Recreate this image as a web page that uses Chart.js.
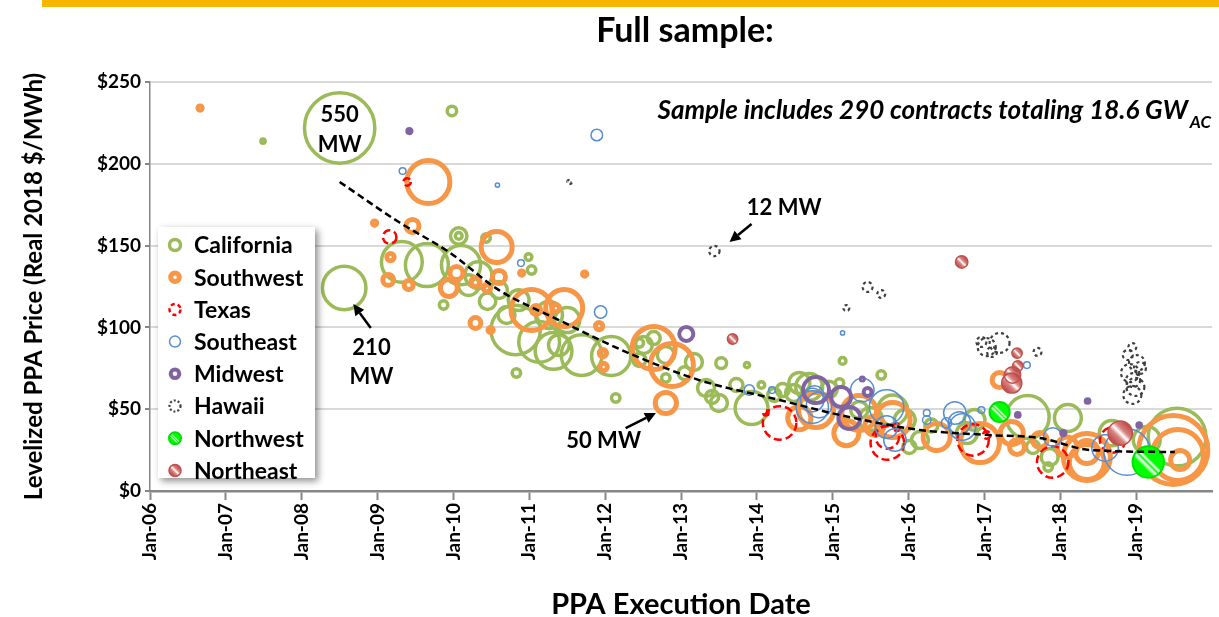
<!DOCTYPE html>
<html>
<head>
<meta charset="utf-8">
<script src="https://cdn.jsdelivr.net/npm/chart.js@4.4.1/dist/chart.umd.min.js"></script>
<style>
html,body{margin:0;padding:0;background:#fff;}
#wrap{position:relative;width:1219px;height:617px;overflow:hidden;}
</style>
</head>
<body>
<div id="wrap"><canvas id="c" width="1219" height="617"></canvas></div>
<script>
// ---------- DATA (year of PPA execution, levelized price $/MWh, capacity MW) ----------
const seriesNames = ['California','Southwest','Texas','Southeast','Midwest','Hawaii','Northwest','Northeast'];
const yearTickLabels = ['Jan-06','Jan-07','Jan-08','Jan-09','Jan-10','Jan-11','Jan-12','Jan-13','Jan-14','Jan-15','Jan-16','Jan-17','Jan-18','Jan-19'];
const priceTickValues = [0,50,100,150,200,250];

const california = [
  [2008.50,221.9,550],[2008.56,124.1,210],[2007.49,213.9,2],[2009.98,232.3,10],
  [2010.07,155.9,30],[2010.07,155.9,5],[2010.43,154.6,8],[2009.32,140.0,185],
  [2009.65,138.1,205],[2010.10,138.1,170],[2010.33,132.0,80],[2010.20,125.9,48],
  [2009.87,113.7,8],[2010.60,122.9,32],[2010.99,143.0,5],[2011.03,135.1,8],
  [2010.86,116.7,48],[2010.70,107.6,32],[2010.82,98.4,270],[2011.13,91.1,185],
  [2011.26,107.6,80],[2011.50,104.5,70],[2011.39,89.2,48],[2011.69,83.1,185],
  [2012.08,82.5,170],[2010.83,72.1,8],[2012.14,56.8,8],[2012.51,89.2,32],
  [2012.64,93.5,19],[2012.80,83.1,32],[2012.45,80.1,19],[2012.80,69.1,8],
  [2013.17,78.8,32],[2013.53,78.2,13],[2013.87,77.0,3],[2013.33,63.0,32],
  [2013.41,57.5,19],[2013.50,53.8,32],[2013.73,64.8,19],[2013.93,50.7,120],
  [2014.06,64.8,5],[2014.34,61.7,19],[2014.49,59.9,32],[2014.69,63.6,80],
  [2015.13,79.5,5],[2015.64,70.9,8],[2015.09,66.0,8],[2015.79,49.5,100],
  [2016.01,26.9,19],[2016.77,35.4,48],[2017.57,45.2,205],[2018.10,44.6,80],
  [2017.64,26.9,19],[2017.86,20.8,32],[2018.68,35.4,70],[2019.54,33.0,370],
  [2016.87,43.4,48],[2019.14,31.2,80],[2012.45,90.5,8],[2015.95,43.4,48],
  [2016.15,31.2,32],[2015.35,49.5,32],[2017.84,14.7,8],
  [2011.32,85.6,150],[2014.56,66.0,49],[2014.23,58.7,19],[2010.45,116.0,30],
  [2013.05,72.0,19],[2014.95,62.0,30],[2015.50,44.0,60],[2016.30,40.0,19]
];
const southwest = [
  [2006.66,234.1,2],[2009.67,188.9,205],[2008.96,163.8,2],[2009.46,162.0,19],
  [2009.17,143.0,6],[2009.14,129.0,13],[2009.41,125.9,9],[2009.94,124.1,32],
  [2010.04,133.2,19],[2010.29,127.7,9],[2010.44,124.1,6],[2010.60,130.8,19],
  [2010.57,149.1,107],[2010.29,102.7,13],[2010.49,98.4,3],[2011.03,110.6,187],
  [2011.46,111.8,152],[2011.09,110.6,9],[2011.35,111.8,6],[2011.73,132.6,2],
  [2011.92,100.8,6],[2011.97,84.3,6],[2011.98,75.8,6],[2012.64,87.4,205],
  [2012.88,77.0,205],[2012.80,53.8,50],[2010.90,133.2,2],
  [2014.78,49.5,136],[2015.18,35.4,70],[2015.35,47.7,136],[2015.79,43.4,136],
  [2016.37,33.0,81],[2016.94,29.3,170],[2017.36,35.4,59],[2017.43,26.9,25],
  [2017.20,67.8,25],[2018.35,20.8,245],[2018.35,17.7,136],[2018.35,23.8,59],
  [2019.49,25.1,530],[2019.55,22.0,290],[2019.58,18.9,40],[2017.73,31.2,25],
  [2018.09,26.9,45],[2014.56,44.6,60],[2015.55,40.0,40]
];
const texas = [
  [2009.39,188.9,6],[2009.16,155.3,20],[2014.30,41.6,125],[2014.12,47.7,3],
  [2015.72,29.3,125],[2015.72,33.0,61],[2015.84,39.1,6],[2016.85,31.2,110],
  [2017.03,34.2,6],[2017.90,17.7,110],[2018.69,31.2,72]
];
const southeast = [
  [2009.33,195.6,5],[2011.89,217.6,15],[2010.58,187.0,2],[2010.89,139.3,5],
  [2011.94,109.4,17],[2013.90,61.7,12],[2014.20,61.7,5],[2015.13,96.6,2],
  [2014.73,51.3,117],[2014.73,55.6,61],[2014.76,58.7,38],[2014.82,52.6,72],
  [2015.39,61.7,61],[2015.71,51.3,132],[2015.71,39.1,56],[2015.82,31.2,56],
  [2016.24,43.4,8],[2016.24,47.7,5],[2016.61,47.7,56],[2016.50,41.6,12],
  [2016.71,39.1,78],[2016.96,49.5,5],[2016.67,41.6,56],[2017.56,77.0,5],
  [2017.90,33.0,38],[2018.59,26.3,78],[2018.88,23.8,240]
];
const midwest = [
  [2009.42,220.0,2],[2013.07,96.0,22],[2014.78,61.7,75],[2015.11,57.5,44],
  [2015.22,44.6,54],[2015.46,60.5,7],[2015.39,68.5,1],[2017.44,46.5,1.5],
  [2018.36,55.0,1.5],[2018.04,35.4,2],[2019.04,40.3,1.5]
];
const hawaii = [
  [2011.53,188.9,2],[2013.44,146.7,12],[2015.18,111.8,4],[2015.46,124.7,11],
  [2015.64,120.4,7],[2017.03,88.0,36],[2017.20,90.5,44],[2016.96,91.1,11],
  [2017.10,85.0,11],[2017.70,85.0,7],[2018.95,88.0,7],[2019.01,78.2,28],
  [2018.92,72.1,36],[2018.99,63.6,36],[2018.95,58.7,36],[2019.05,75.2,16],
  [2018.96,67.8,22],[2018.89,83.1,11]
];
const northwest = [
  [2017.20,48.3,45],[2019.16,17.7,110]
];
const northeast = [
  [2013.68,92.9,12],[2016.70,140.0,17],[2017.43,84.3,12],[2017.44,76.4,12],
  [2017.37,70.9,30],[2017.36,66.0,45],[2018.79,35.4,66]
];
const trendYears  = [2008.50,2009.28,2009.94,2010.60,2011.39,2012.31,2013.24,2014.30,2015.09,2016.15,2017.07,2017.73,2018.39,2019.51];
const trendPrices = [188.9,164.4,146.1,122.8,104.5,84.3,67.8,55.6,46.5,37.3,34.2,32.4,25.1,23.8];

// ---------- STYLE ----------
const R_PER_SQRT_MW = 1.5;
const FONT = 'Lato, "Liberation Sans", sans-serif';
const seriesStyle = {
  California:{color:'#9BBB59', width:3.5, dash:[]},
  Southwest:{color:'#F79646', width:5, dash:[]},
  Texas:{color:'#FF0000', width:2.5, dash:[8,4]},
  Southeast:{color:'#558ED5', width:1.5, dash:[]},
  Midwest:{color:'#8064A2', width:4, dash:[]},
  Hawaii:{color:'#404040', width:2.2, dash:[3,3]},
  Northwest:{color:'#00E000', width:2, dash:[], stripes:[[0,'#00FF00'],[0.3,'#00FF00'],[0.4,'#FFFFFF'],[0.47,'#00FF00'],[0.53,'#FFFFFF'],[0.6,'#00FF00'],[1,'#00FF00']]},
  Northeast:{color:'#C0504D', width:1.5, dash:[], stripes:[[0,'#B5423F'],[0.35,'#D9837F'],[0.5,'#FFFFFF'],[0.65,'#D9837F'],[1,'#B5423F']]}
};
const seriesData = {California:california, Southwest:southwest, Texas:texas, Southeast:southeast,
  Midwest:midwest, Hawaii:hawaii, Northwest:northwest, Northeast:northeast};

function stripeGradient(ctx, px, py, r, stops){
  const d = r*0.75;
  const g = ctx.createLinearGradient(px-d, py+d, px+d, py-d);
  stops.forEach(s => g.addColorStop(s[0], s[1]));
  return g;
}

const datasets = [];
datasets.push({
  type:'line', label:'Trend', order:0,
  data: trendYears.map((x,i)=>({x, y:trendPrices[i]})),
  borderColor:'#000', borderWidth:2.5, borderDash:[7,4], pointRadius:0,
  fill:false, tension:0.4, cubicInterpolationMode:'monotone'
});
seriesNames.forEach((name, i) => {
  const st = seriesStyle[name];
  datasets.push({
    type:'bubble', label:name, order: seriesNames.length - i,
    data: seriesData[name].map(([x,y,mw]) => ({x, y, r: R_PER_SQRT_MW*Math.sqrt(mw)})),
    borderColor: st.color, borderWidth: st.width, hoverBorderWidth: st.width,
    dashPattern: st.dash, stripeStops: st.stripes || null,
    backgroundColor: 'rgba(0,0,0,0)'
  });
});

// ---------- PLUGINS ----------
const dashPlugin = {
  id:'dashPlugin',
  beforeDatasetDraw(chart, args){
    const ds = chart.data.datasets[args.index];
    chart.ctx.save();
    chart.ctx.setLineDash(ds.dashPattern || []);
    if (ds.stripeStops) {
      const ctx = chart.ctx;
      args.meta.data.forEach(el => {
        const r = el.options.radius;
        if (!isFinite(el.x) || !isFinite(el.y) || !(r > 0)) return;
        ctx.beginPath();
        ctx.arc(el.x, el.y, r, 0, Math.PI*2);
        ctx.fillStyle = stripeGradient(ctx, el.x, el.y, r, ds.stripeStops);
        ctx.fill();
      });
    }
  },
  afterDatasetDraw(chart){ chart.ctx.restore(); }
};

function arrow(ctx, x1, y1, x2, y2){
  ctx.save();
  ctx.strokeStyle = '#000'; ctx.fillStyle = '#000'; ctx.lineWidth = 2.5;
  const a = Math.atan2(y2-y1, x2-x1);
  const hl = 11, hw = 5.5;
  const bx = x2 - hl*Math.cos(a), by = y2 - hl*Math.sin(a);
  ctx.beginPath(); ctx.moveTo(x1,y1); ctx.lineTo(bx,by); ctx.stroke();
  ctx.beginPath();
  ctx.moveTo(x2,y2);
  ctx.lineTo(bx + hw*Math.sin(a), by - hw*Math.cos(a));
  ctx.lineTo(bx - hw*Math.sin(a), by + hw*Math.cos(a));
  ctx.closePath(); ctx.fill();
  ctx.restore();
}

// annotation anchors in data units
const annotations = [
  {lines:['550','MW'], x:2008.50, y:[229.8,211.5]},
  {lines:['210','MW'], x:2008.92, y:[87.4,69.7], arrow:[2008.91,99.6,2008.68,114.3]},
  {lines:['50 MW'], x:2011.98, y:[30.6], arrow:[2012.27,38.5,2012.67,47.7]},
  {lines:['12 MW'], x:2014.36, y:[173.0], arrow:[2013.93,163.2,2013.64,152.2]}
];

const overlayPlugin = {
  id:'overlay',
  afterDatasetsDraw(chart){
    const ctx = chart.ctx, xs = chart.scales.x, ys = chart.scales.y;
    ctx.save();
    ctx.fillStyle = '#000';
    ctx.font = 'bold 22px ' + FONT;
    ctx.textAlign = 'center'; ctx.textBaseline = 'middle';
    annotations.forEach(a => {
      const px = xs.getPixelForValue(a.x);
      a.lines.forEach((t, k) => ctx.fillText(t, px, ys.getPixelForValue(a.y[k])));
      if (a.arrow) arrow(ctx, xs.getPixelForValue(a.arrow[0]), ys.getPixelForValue(a.arrow[1]),
                             xs.getPixelForValue(a.arrow[2]), ys.getPixelForValue(a.arrow[3]));
    });
    const main = 'Sample includes 290 contracts totaling 18.6 GW';
    ctx.textAlign = 'left';
    ctx.font = 'italic bold 26px ' + FONT;
    const w1 = ctx.measureText(main).width;
    ctx.font = 'italic bold 17px ' + FONT;
    const w2 = ctx.measureText('AC').width;
    const right = chart.chartArea.right - 1;
    const start = right - w1 - w2 - 2;
    ctx.font = 'italic bold 26px ' + FONT;
    ctx.fillText(main, start, 111);
    ctx.font = 'italic bold 17px ' + FONT;
    ctx.fillText('AC', start + w1 + 2, 123);
    ctx.restore();

    // legend box
    const lx = 158, ly = 227, lw = 157, lh = 251;
    ctx.save();
    ctx.shadowColor = 'rgba(0,0,0,0.45)'; ctx.shadowBlur = 7; ctx.shadowOffsetX = 3; ctx.shadowOffsetY = 3;
    ctx.fillStyle = '#fff'; ctx.fillRect(lx, ly, lw, lh);
    ctx.restore();
    ctx.save();
    seriesNames.forEach((name, i) => {
      const st = seriesStyle[name];
      const cy = 245 + i*32.2, cx = 175;
      const r = st.width >= 4 ? 4.3 : 5.5;
      ctx.save();
      ctx.setLineDash(name === 'Texas' ? [4,3] : name === 'Hawaii' ? [2,2] : []);
      ctx.lineWidth = st.width;
      ctx.strokeStyle = st.color;
      ctx.beginPath(); ctx.arc(cx, cy, st.stripes ? 6 : r, 0, Math.PI*2);
      if (st.stripes) { ctx.fillStyle = stripeGradient(ctx, cx, cy, 6, st.stripes); ctx.fill(); }
      ctx.stroke();
      ctx.restore();
      ctx.fillStyle = '#000';
      ctx.font = 'bold 23px ' + FONT;
      ctx.textAlign = 'left'; ctx.textBaseline = 'middle';
      ctx.fillText(name, 194, cy + 1);
    });
    ctx.restore();
  },
  beforeDraw(chart){
    const ctx = chart.ctx;
    ctx.save();
    ctx.fillStyle = '#fff'; ctx.fillRect(0,0,chart.width,chart.height);
    ctx.fillStyle = '#F7B500'; ctx.fillRect(42, 0, chart.width-42, 7);
    ctx.fillStyle = '#000';
    ctx.font = 'bold 34px ' + FONT;
    ctx.textAlign = 'center'; ctx.textBaseline = 'middle';
    ctx.fillText('Full sample:', 685, 31);
    ctx.restore();
  }
};

new Chart(document.getElementById('c'), {
  type:'bubble',
  data:{ datasets },
  options:{
    responsive:false, animation:false, devicePixelRatio:1,
    layout:{ autoPadding:false, padding:{ top:82, right:7, left:0, bottom:0 } },
    plugins:{ legend:{display:false}, tooltip:{enabled:false}, title:{display:false} },
    events:[],
    scales:{
      x:{
        type:'linear', min:2006, max:2020,
        afterFit: s => { s.height = 126; },
        afterBuildTicks: s => { s.ticks = s.ticks.filter(t => t.value < 2019.5); },
        ticks:{ stepSize:1, autoSkip:false, maxRotation:90, minRotation:90, padding:3,
          color:'#000', font:{family:FONT, weight:'bold', size:19},
          callback: v => yearTickLabels[Math.round(v) - 2006] || '' },
        grid:{ drawOnChartArea:false, drawTicks:true, tickLength:9, tickColor:'#868686', tickWidth:2 },
        border:{ display:true, color:'#868686', width:2.5 },
        title:{ display:true, text:'PPA Execution Date', color:'#000',
          font:{family:FONT, weight:'bold', size:29}, padding:{top:0,bottom:-5} }
      },
      y:{
        type:'linear', min:0, max:250,
        afterFit: s => { s.width = 150; },
        afterBuildTicks: s => { s.ticks = priceTickValues.map(v => ({value:v})); },
        ticks:{ padding:4, color:'#000', font:{family:FONT, weight:'bold', size:19},
          callback: v => '$' + v },
        grid:{ color:'#D9D9D9', lineWidth:2, tickLength:5, tickColor:'#868686' },
        border:{ display:true, color:'#868686', width:1.5 },
        title:{ display:true, text:'Levelized PPA Price (Real 2018 $/MWh)', color:'#000',
          font:{family:FONT, weight:'bold', size:24}, padding:{top:20,bottom:0} }
      }
    }
  },
  plugins:[dashPlugin, overlayPlugin]
});
</script>
</body>
</html>
